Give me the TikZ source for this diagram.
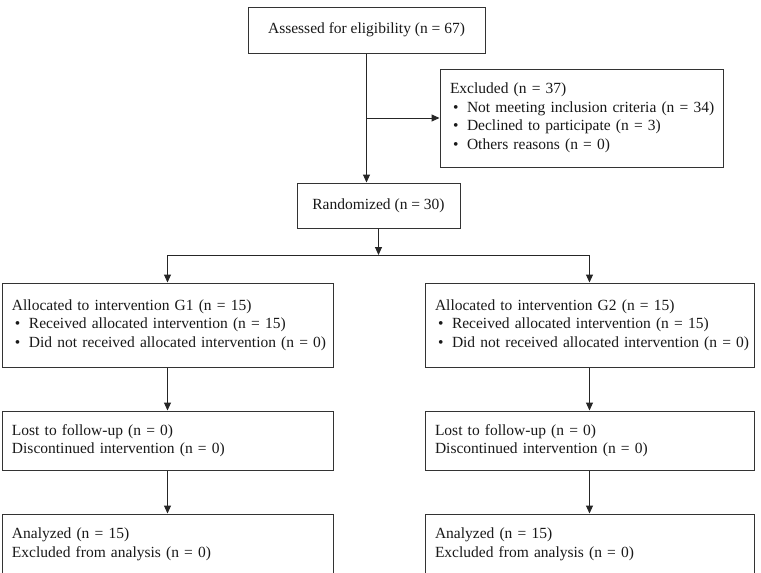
\documentclass[tikz,border=0pt]{standalone}
\usepackage{fontspec}
\setmainfont{Liberation Serif}
\usetikzlibrary{arrows.meta}
\newcommand{\bul}{\hspace*{3pt}\makebox[14pt][l]{\textbullet}}
\newcommand{\lineof}[1]{\mbox{#1}}
\begin{document}
\begin{tikzpicture}[x=1pt,y=-1pt,
  every node/.style={font=\fontsize{15.5}{18.5}\selectfont, text=black!90},
  box/.style={draw=black!80, line width=1pt, rectangle, inner sep=0pt, align=left},
  cbox/.style={draw=black!80, line width=1pt, rectangle, inner sep=0pt, align=center},
  conn/.style={draw=black!85, line width=1pt},
  arr/.style={conn, -{Triangle[length=8pt,width=7pt]}}]
\useasboundingbox (0,0) rectangle (761,573);
\fill[white] (0,0) rectangle (761,573);

\node[cbox, minimum width=237pt, minimum height=46pt] (A) at (366.5,30) {Assessed for eligibility (n = 67)};
\node[box, minimum width=283pt, minimum height=98pt, text width=263pt] (E) at (581.5,118)
  {\lineof{Excluded (n = 37)}\\\lineof{\bul Not meeting inclusion criteria (n = 34)}\\\lineof{\bul Declined to participate (n = 3)}\\\lineof{\bul Others reasons (n = 0)}};
\node[cbox, minimum width=163pt, minimum height=45pt] (R) at (378.5,205.5) {Randomized (n = 30)};

\node[box, minimum width=331pt, minimum height=84pt, text width=311pt] (G1) at (167.5,325)
  {\lineof{Allocated to intervention G1 (n = 15)}\\\lineof{\bul Received allocated intervention (n = 15)}\\\lineof{\bul Did not received allocated intervention (n = 0)}};
\node[box, minimum width=329pt, minimum height=84pt, text width=309pt] (G2) at (589.5,325)
  {\lineof{Allocated to intervention G2 (n = 15)}\\\lineof{\bul Received allocated intervention (n = 15)}\\\lineof{\bul Did not received allocated intervention (n = 0)}};

\node[box, minimum width=331pt, minimum height=59pt, text width=311pt] (L1) at (167.5,440.5)
  {\lineof{Lost to follow-up (n = 0)}\\\lineof{Discontinued intervention (n = 0)}};
\node[box, minimum width=329pt, minimum height=59pt, text width=309pt] (L2) at (589.5,440.5)
  {\lineof{Lost to follow-up (n = 0)}\\\lineof{Discontinued intervention (n = 0)}};

\node[box, minimum width=331pt, minimum height=61pt, text width=311pt] (N1) at (167.5,544.5)
  {\lineof{Analyzed (n = 15)}\\\lineof{Excluded from analysis (n = 0)}};
\node[box, minimum width=329pt, minimum height=61pt, text width=309pt] (N2) at (589.5,544.5)
  {\lineof{Analyzed (n = 15)}\\\lineof{Excluded from analysis (n = 0)}};

\coordinate (ex) at (A.south |- E.west);
\coordinate (sp) at (378.5,255);
\coordinate (sl) at (G1.north |- sp);
\coordinate (sr) at (G2.north |- sp);

\draw[arr] (A.south) -- (A.south |- R.north);
\draw[arr] (ex) -- (E.west);
\draw[arr] (R.south) -- (sp);
\draw[conn] (sl) -- (sr);
\draw[arr] (sl) -- (G1.north);
\draw[arr] (sr) -- (G2.north);
\draw[arr] (G1.south) -- (L1.north);
\draw[arr] (G2.south) -- (L2.north);
\draw[arr] (L1.south) -- (N1.north);
\draw[arr] (L2.south) -- (N2.north);
\end{tikzpicture}
\end{document}
